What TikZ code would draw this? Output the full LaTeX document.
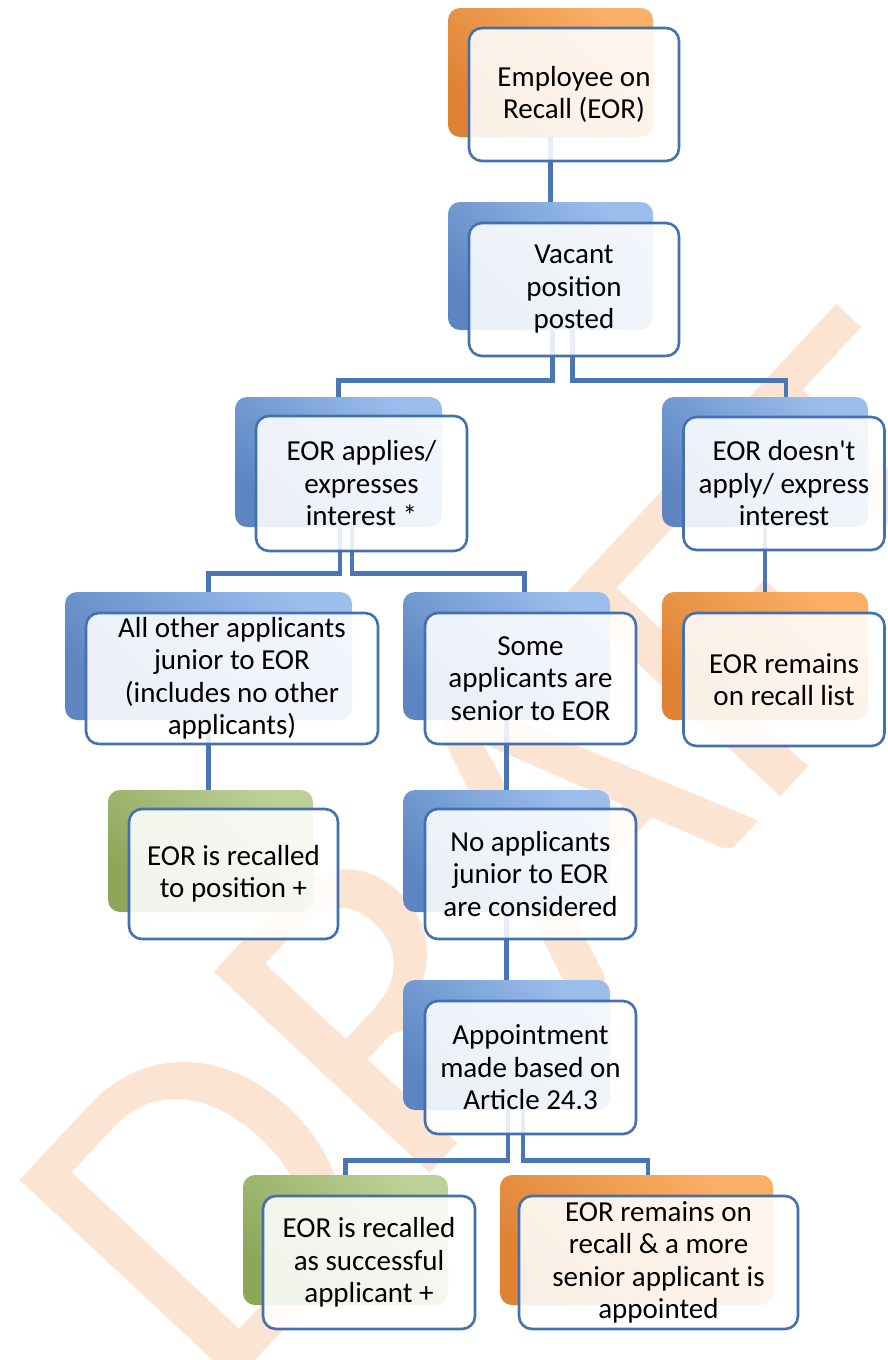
\documentclass[tikz,border=0pt]{standalone}
\usepackage{fontspec}
\setmainfont{Carlito}

\definecolor{lineblue}{HTML}{4A76B5}
\definecolor{edgeblue}{HTML}{4470AE}
\definecolor{blueL}{HTML}{9BBEEC}
\definecolor{blueD}{HTML}{5C85C2}
\definecolor{orangeL}{HTML}{FCB066}
\definecolor{orangeD}{HTML}{DE8233}
\definecolor{greenL}{HTML}{BDD197}
\definecolor{greenD}{HTML}{8DA659}
\definecolor{wmark}{HTML}{FCE4D2}

\begin{document}
\begin{tikzpicture}[x=1pt, y=-1pt,
    back/.style={rounded corners=12pt, inner sep=0pt, shading angle=-45},
    blueback/.style={back, top color=blueL, bottom color=blueD, shading angle=-45},
    orangeback/.style={back, top color=orangeL, bottom color=orangeD, shading angle=-45},
    greenback/.style={back, top color=greenL, bottom color=greenD, shading angle=-45},
    front/.style={draw=edgeblue, line width=2.6pt, rounded corners=13pt, fill=white,
        fill opacity=.88, text opacity=1, align=center, inner sep=0pt,
        font=\fontsize{29}{32.5}\selectfont},
    link/.style={draw=lineblue, line width=4.6pt},
    wm/.style={text=wmark, font=\fontsize{460}{460}\selectfont, rotate=47}]
\clip (0,0) rectangle (887,1360);
\node[wm] (draft) at (528,852) {DRAFT};

% coloured tabs behind
\node[orangeback, minimum width=205, minimum height=129] (eorB) at (550.5,72.5) {};
\node[blueback, minimum width=205, minimum height=128] (vacB) at (550.5,266) {};
\node[blueback, minimum width=207, minimum height=130] (appB) at (338.5,462) {};
\node[blueback, minimum width=206, minimum height=130] (noappB) at (765,462) {};
\node[blueback, minimum width=287, minimum height=128] (junB) at (208.5,656) {};
\node[blueback, minimum width=207, minimum height=128] (senB) at (506.5,656) {};
\node[orangeback, minimum width=206, minimum height=128] (listB) at (765,656) {};
\node[greenback, minimum width=205, minimum height=122] (recB) at (210.5,851) {};
\node[blueback, minimum width=207, minimum height=122] (consB) at (506.5,851) {};
\node[blueback, minimum width=207, minimum height=130] (artB) at (506.5,1045) {};
\node[greenback, minimum width=205, minimum height=130] (succB) at (345.5,1240) {};
\node[orangeback, minimum width=273, minimum height=130] (moreB) at (636.5,1240) {};

% connectors
\draw[link] (eorB.south) -- (vacB.north);
\draw[link] ([xshift=2]vacB.south) -- ++(0,50) -| (appB.north);
\draw[link] ([xshift=22]vacB.south) -- ++(0,50) -| ([xshift=21]noappB.north);
\draw[link] ([xshift=1.5]appB.south) -- ++(0,46) -| (junB.north);
\draw[link] ([xshift=13.5]appB.south) -- ++(0,46) -| ([xshift=18]senB.north);
\draw[link] (noappB.south) -- (listB.north);
\draw[link] (junB.south) -- (junB.south |- recB.north);
\draw[link] (senB.south) -- (consB.north);
\draw[link] (consB.south) -- (artB.north);
\draw[link] ([xshift=1.5]artB.south) -- ++(0,50) -| (succB.north);
\draw[link] ([xshift=16.5]artB.south) -- ++(0,50) -| ([xshift=11.5]moreB.north);

% text boxes in front
\node[front, minimum width=210, minimum height=133] (eor) at (574,94.5) {Employee on\\Recall (EOR)};
\node[front, minimum width=210, minimum height=133] (vac) at (574,289.5) {Vacant\\position\\posted};
\node[front, minimum width=211, minimum height=135] (app) at (361.5,483.5) {EOR applies/\\expresses\\interest *};
\node[front, minimum width=201, minimum height=133] (noapp) at (784,483.5) {EOR doesn\textquotesingle t\\apply/ express\\interest};
\node[front, minimum width=292, minimum height=131] (jun) at (232,678.5) {All other applicants\\junior to EOR\\(includes no other\\applicants)};
\node[front, minimum width=211, minimum height=131] (sen) at (530.5,678.5) {Some\\applicants are\\senior to EOR};
\node[front, minimum width=201, minimum height=133] (list) at (784,679.5) {EOR remains\\on recall list};
\node[front, minimum width=209, minimum height=130] (rec) at (233.5,874) {EOR is recalled\\to position +};
\node[front, minimum width=211, minimum height=130] (cons) at (530.5,874) {No applicants\\junior to EOR\\are considered};
\node[front, minimum width=211, minimum height=133] (art) at (530.5,1067.5) {Appointment\\made based on\\Article 24.3};
\node[front, minimum width=212, minimum height=133] (succ) at (369,1262.5) {EOR is recalled\\as successful\\applicant +};
\node[front, minimum width=279, minimum height=133] (more) at (658.5,1262.5) {EOR remains on\\recall \& a more\\senior applicant is\\appointed};
\end{tikzpicture}
\end{document}
